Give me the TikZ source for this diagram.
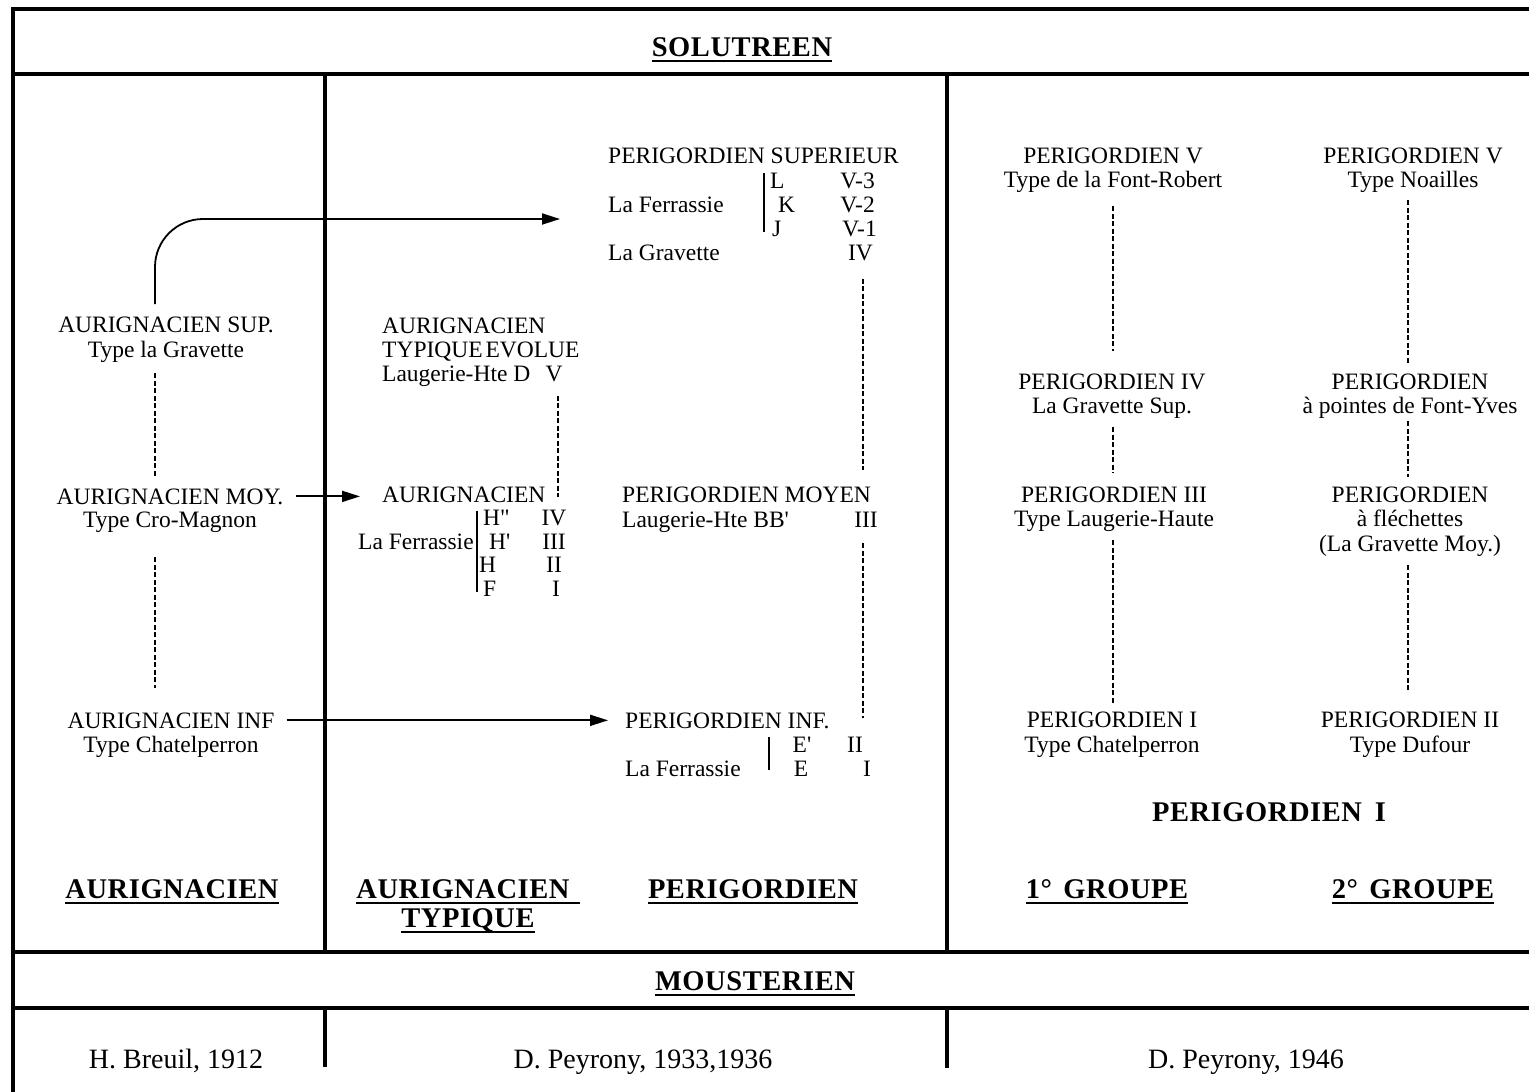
\documentclass[tikz,border=0pt]{standalone}
\usepackage{fontspec}
\setmainfont{Liberation Serif}
\newfontfamily\hdfont[LetterSpace=2]{Liberation Serif}
\usetikzlibrary{arrows.meta}
\tikzset{
  txt/.style={inner sep=0pt, anchor=base, font=\fontsize{23.5}{24}\selectfont},
  txl/.style={txt, anchor=base west},
  txr/.style={txt, anchor=base east},
  hd/.style={inner sep=0pt, anchor=base, font=\hdfont\bfseries\fontsize{28.5}{30}\selectfont},
  bot/.style={inner sep=0pt, anchor=base, font=\fontsize{28}{30}\selectfont},
  frame/.style={line width=4pt},
  vline/.style={line width=3.6pt},
  dl/.style={line width=1.6pt, dash pattern=on 5pt off 2.5pt},
  arr/.style={line width=1.8pt, -{Triangle[length=18pt,width=11pt]}},
  ul/.style={line width=2pt},
  brace/.style={line width=2.4pt},
}
\newcommand\myul[2][0pt]{\draw[ul] ([yshift=-5pt]#2.base west) -- ([yshift=-5pt,xshift=#1]#2.base east);}
\begin{document}
\begin{tikzpicture}[x=1pt,y=-1pt]
\fill[white] (0,0) rectangle (1529,1092);
\useasboundingbox (0,0) rectangle (1529,1092);

% frame
\draw[frame] (13,1092) -- (13,9) -- (1529,9);
\draw[frame] (13,74) -- (1529,74);
\draw[frame] (13,952) -- (1529,952);
\draw[frame] (13,1008) -- (1529,1008);
\draw[vline] (325,74) -- (325,952);
\draw[vline] (947,74) -- (947,952);
\draw[vline] (325,1008) -- (325,1067);
\draw[vline] (947,1008) -- (947,1068);

% headings
\node[hd] (sol) at (742,56) {SOLUTREEN}; \myul{sol}
\node[hd] (mou) at (755,990) {MOUSTERIEN}; \myul{mou}
\node[hd] (hA) at (172,898) {AURIGNACIEN}; \myul{hA}
\node[hd] (hAT1) at (463,898) {AURIGNACIEN}; \myul[10pt]{hAT1}
\node[hd] (hAT2) at (468,927) {TYPIQUE}; \myul{hAT2}
\node[hd] (hP) at (753,898) {PERIGORDIEN}; \myul{hP}
\node[hd] (hPI) at (1269,821) {PERIGORDIEN\hspace{0.45em}I};
\node[hd] (hG1) at (1107,898) {1°\hspace{0.4em}GROUPE}; \myul{hG1}
\node[hd] (hG2) at (1413,898) {2°\hspace{0.4em}GROUPE}; \myul{hG2}

% bottom authors
\node[bot] (b1) at (176,1068) {H. Breuil, 1912};
\node[bot] (b2) at (643,1068) {D. Peyrony, 1933,1936};
\node[bot] (b3) at (1246,1068) {D. Peyrony, 1946};

% column 1 (Breuil)
\node[txt] (ausup1) at (166,332) {AURIGNACIEN SUP.};
\node[txt] (ausup2) at (166,357) {Type la Gravette};
\node[txt] (aumoy1) at (170,504) {AURIGNACIEN MOY.};
\node[txt] (aumoy2) at (170,527) {Type Cro-Magnon};
\node[txt] (auinf1) at (171,728) {AURIGNACIEN INF};
\node[txt] (auinf2) at (171,752) {Type Chatelperron};

% column 2 aurignacien typique
\node[txl] (at1) at (382,333) {AURIGNACIEN};
\node[txl] (at2) at (382,357) {TYPIQUE\hspace{0.12em}EVOLUE};
\node[txl] (at3) at (382,381) {Laugerie-Hte D};
\node[txt] (atv) at (554,381) {V};
\node[txl] (aurig2) at (382,502) {AURIGNACIEN};
\node[txl] (alf) at (358,549) {La Ferrassie};
\node[txl] (ah2) at (483,525) {H\textquotedbl};
\node[txl] (ah1) at (489,549) {H\textquotesingle};
\node[txl] (ah0) at (479,572) {H};
\node[txl] (af) at (483,596) {F};
\node[txt] (aiv) at (554,525) {IV};
\node[txt] (aiii) at (554,549) {III};
\node[txt] (aii) at (554,572) {II};
\node[txt] (ai) at (556,596) {I};
\draw[brace] (477,511) -- (477,592);

% perigordien superieur
\node[txl] (ps1) at (608,163) {PERIGORDIEN SUPERIEUR};
\node[txl] (psf) at (608,212) {La Ferrassie};
\node[txl] (psL) at (770,188) {L};
\node[txl] (psK) at (778,212) {K};
\node[txl] (psJ) at (772,236) {J};
\node[txr] (psv3) at (875,188) {V-3};
\node[txr] (psv2) at (875,212) {V-2};
\node[txr] (psv1) at (877,236) {V-1};
\node[txl] (psg) at (608,260) {La Gravette};
\node[txr] (psiv) at (873,260) {IV};
\draw[brace] (764,173) -- (764,232);

% perigordien moyen
\node[txl] (pmoy1) at (622,502) {PERIGORDIEN MOYEN};
\node[txl] (pmoy2) at (622,527) {Laugerie-Hte BB\textquotesingle};
\node[txt] (pmoyiii) at (866,527) {III};

% perigordien inf
\node[txl] (pinf1) at (625,728) {PERIGORDIEN INF.};
\node[txt] (pie1) at (802,752) {E\textquotesingle};
\node[txt] (piii) at (855,752) {II};
\node[txl] (pinf3) at (625,776) {La Ferrassie};
\node[txt] (pie0) at (801,776) {E};
\node[txt] (pii) at (867,776) {I};
\draw[brace] (769,737) -- (769,770);

% 1946: 1er groupe
\node[txt] (pv1) at (1113,163) {PERIGORDIEN V};
\node[txt] (pv2) at (1113,187) {Type de la Font-Robert};
\node[txt] (piv1) at (1112,389) {PERIGORDIEN IV};
\node[txt] (piv2) at (1112,413) {La Gravette Sup.};
\node[txt] (piiia) at (1114,502) {PERIGORDIEN III};
\node[txt] (piiib) at (1114,526) {Type Laugerie-Haute};
\node[txt] (pi1) at (1112,727) {PERIGORDIEN I};
\node[txt] (pi2) at (1112,752) {Type Chatelperron};

% 1946: 2e groupe
\node[txt] (pvn1) at (1413,163) {PERIGORDIEN V};
\node[txt] (pvn2) at (1413,187) {Type Noailles};
\node[txt] (pfy1) at (1410,389) {PERIGORDIEN};
\node[txt] (pfy2) at (1410,413) {à pointes de Font-Yves};
\node[txt] (pfl1) at (1410,502) {PERIGORDIEN};
\node[txt] (pfl2) at (1410,526) {à fléchettes};
\node[txt] (pfl3) at (1410,551) {(La Gravette Moy.)};
\node[txt] (pii1) at (1410,727) {PERIGORDIEN II};
\node[txt] (pii2) at (1410,752) {Type Dufour};

% column x positions
\coordinate (xa) at (155,0);
\coordinate (xb) at (558,0);
\coordinate (xc) at (863,0);
\coordinate (xd) at (1113,0);
\coordinate (xe) at (1408,0);
\coordinate (bend1) at (155,219);

% dashed connectors
\draw[dl, shorten <=11pt, shorten >=10pt] (ausup2.south -| xa) -- (aumoy1.north -| xa);
\draw[dl, shorten <=25pt, shorten >=24pt] (aumoy2.south -| xa) -- (auinf1.north -| xa);
\draw[dl, shorten <=14pt, shorten >=5pt] (atv.south -| xb) -- (aurig2.base -| xb);
\draw[dl, shorten <=18pt, shorten >=16pt] (psiv.south -| xc) -- (pmoy1.north -| xc);
\draw[dl, shorten <=16pt, shorten >=10pt] (pmoyiii.south -| xc) -- (pinf1.base -| xc);
\draw[dl, shorten <=14pt, shorten >=22pt] (pv2.south -| xd) -- (piv1.north -| xd);
\draw[dl, shorten <=9pt, shorten >=14pt] (piv2.south -| xd) -- (piiia.north -| xd);
\draw[dl, shorten <=9pt, shorten >=8pt] (piiib.south -| xd) -- (pi1.north -| xd);
\draw[dl, shorten <=8pt, shorten >=10pt] (pvn2.south -| xe) -- (pfy1.north -| xe);
\draw[dl, shorten <=3pt, shorten >=9pt] (pfy2.south -| xe) -- (pfl1.north -| xe);
\draw[dl, shorten <=9pt, shorten >=21pt] (pfl3.south -| xe) -- (pii1.north -| xe);

% arrows
\draw[arr, rounded corners=48pt, shorten <=12pt, shorten >=48pt] (ausup1.north -| bend1) -- (bend1) -- (bend1 -| psf.west);
\draw[arr, shorten <=12pt, shorten >=22pt] (aumoy1.east) -- (aumoy1.east -| aurig2.west);
\draw[arr, shorten <=12pt, shorten >=17pt] (auinf1.east) -- (auinf1.east -| pinf1.west);
\end{tikzpicture}
\end{document}
